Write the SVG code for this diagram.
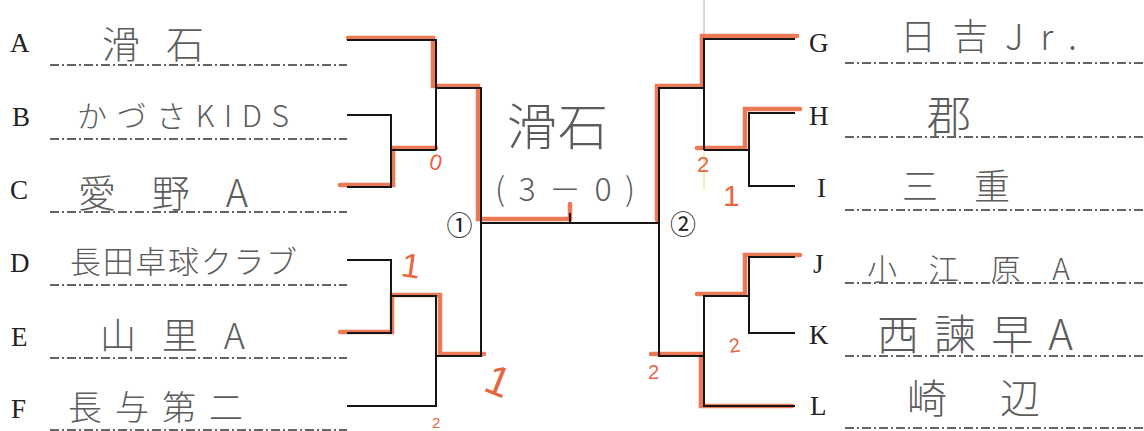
<svg xmlns="http://www.w3.org/2000/svg" width="1144" height="431" viewBox="0 0 1144 431">
<style>
.bg{fill:#ffffff}
.lbl{font-family:"Liberation Serif",serif;font-size:27px;fill:#222}
.hw{font-family:"Noto Sans CJK JP",sans-serif;fill:#5c5c5c;font-weight:300}
.dd{stroke:#333;stroke-width:1.3;stroke-dasharray:9 3 2 3;fill:none}
.br{stroke:#151515;stroke-width:2;fill:none}
.hl{stroke:#e8663f;stroke-width:4.5;fill:none;stroke-linecap:round;opacity:0.88}
.sc{font-family:"Liberation Sans",sans-serif;fill:#e8663f}
.circ{font-family:"Noto Sans CJK JP",sans-serif;font-size:26px;fill:#222}
</style>
<rect class="bg" x="0" y="0" width="1144" height="431"/>

<!-- faint pencil guide marks -->
<line x1="704" y1="0" x2="704" y2="40" stroke="#d9a0e0" stroke-width="1"/>
<line x1="704" y1="152" x2="704" y2="190" stroke="#e8e070" stroke-width="1"/>

<!-- highlighted winner paths -->
<g id="highlights">
<path class="hl" d="M348 38 H433 V86 H478 V219 H570"/>
<path class="hl" d="M570 204 V219"/>
<path class="hl" d="M340 185 H393 V148 H436"/>
<path class="hl" d="M340 332 H392 V295 H440 V354 H484"/>
<path class="hl" d="M797 36 H702 V86 H657 V220"/>
<path class="hl" d="M800 109 H745 V148 H697"/>
<path class="hl" d="M800 255 H745 V294 H697"/>
<path class="hl" d="M792 406 H701 V354 H651"/>
</g>

<!-- connectors (bracket lines) -->
<g id="connectors">
<path class="br" d="M347 40 H436 V150"/>
<path class="br" d="M347 115 H391 V187 H347"/>
<path class="br" d="M391 150 H436"/>
<path class="br" d="M436 88 H481 V356 H436"/>
<path class="br" d="M347 260 H391 V333 H347"/>
<path class="br" d="M391 296 H436 V406 H347"/>
<path class="br" d="M481 223 H659"/>
<path class="br" d="M570 213 V223"/>
<path class="br" d="M795 39 H704 V150"/>
<path class="br" d="M795 113 H749 V186 H795"/>
<path class="br" d="M704 150 H749"/>
<path class="br" d="M704 88 H659 V356 H704"/>
<path class="br" d="M795 257 H749 V333 H795"/>
<path class="br" d="M749 296 H704 V406 H795"/>
</g>

<!-- dash-dot writing lines -->
<g id="lines">
<line class="dd" x1="50" y1="65" x2="347" y2="65"/>
<line class="dd" x1="50" y1="139" x2="347" y2="139"/>
<line class="dd" x1="50" y1="212" x2="347" y2="212"/>
<line class="dd" x1="50" y1="285" x2="347" y2="285"/>
<line class="dd" x1="50" y1="358" x2="347" y2="358"/>
<line class="dd" x1="50" y1="430" x2="347" y2="430"/>
<line class="dd" x1="845" y1="63" x2="1144" y2="63"/>
<line class="dd" x1="845" y1="137" x2="1144" y2="137"/>
<line class="dd" x1="845" y1="210" x2="1144" y2="210"/>
<line class="dd" x1="845" y1="283" x2="1144" y2="283"/>
<line class="dd" x1="845" y1="356" x2="1144" y2="356"/>
<line class="dd" x1="845" y1="428" x2="1144" y2="428"/>
</g>

<!-- left entries -->
<g id="node-A"><text class="lbl" x="10" y="52">A</text><text class="hw" x="102" y="58" font-size="38" textLength="102" lengthAdjust="spacing">滑石</text></g>
<g id="node-B"><text class="lbl" x="12" y="126">B</text><text class="hw" x="77" y="127" font-size="30" textLength="212" lengthAdjust="spacing">かづさKIDS</text></g>
<g id="node-C"><text class="lbl" x="10" y="199">C</text><text class="hw" x="78" y="207" font-size="38" textLength="170" lengthAdjust="spacing">愛野A</text></g>
<g id="node-D"><text class="lbl" x="10" y="272">D</text><text class="hw" x="70" y="273" font-size="31" textLength="227" lengthAdjust="spacing">長田卓球クラブ</text></g>
<g id="node-E"><text class="lbl" x="11" y="346">E</text><text class="hw" x="100" y="349" font-size="36" textLength="145" lengthAdjust="spacing">山里A</text></g>
<g id="node-F"><text class="lbl" x="11" y="418">F</text><text class="hw" x="68" y="420" font-size="34" textLength="175" lengthAdjust="spacing">長与第二</text></g>

<!-- right entries -->
<g id="node-G"><text class="lbl" x="809" y="52">G</text><text class="hw" x="900" y="50" font-size="36" textLength="177" lengthAdjust="spacing">日吉Jr.</text></g>
<g id="node-H"><text class="lbl" x="809" y="125">H</text><text class="hw" x="927" y="133" font-size="44">郡</text></g>
<g id="node-I"><text class="lbl" x="817" y="197">I</text><text class="hw" x="902" y="200" font-size="36" textLength="108" lengthAdjust="spacing">三重</text></g>
<g id="node-J"><text class="lbl" x="813" y="273">J</text><text class="hw" x="867" y="280" font-size="30" textLength="203" lengthAdjust="spacing">小江原A</text></g>
<g id="node-K"><text class="lbl" x="809" y="344">K</text><text class="hw" x="877" y="350" font-size="42" textLength="196" lengthAdjust="spacing">西諫早A</text></g>
<g id="node-L"><text class="lbl" x="810" y="415">L</text><text class="hw" x="907" y="413" font-size="40" textLength="133" lengthAdjust="spacing">崎辺</text></g>

<!-- winner and match marks -->
<g id="result">
<text class="hw" x="507" y="145" font-size="50" textLength="101" lengthAdjust="spacing">滑石</text>
<text class="hw" x="495" y="201" font-size="32" textLength="140" lengthAdjust="spacing">(3－0)</text>
</g>
<g id="match-1"><text class="circ" x="459.5" y="235" text-anchor="middle">①</text></g>
<g id="match-2"><text class="circ" x="683" y="234" text-anchor="middle">②</text></g>

<!-- handwritten scores -->
<g id="scores">
<text class="sc" font-size="22" transform="translate(428,168) rotate(15)">0</text>
<text class="sc" font-size="34" transform="translate(400,276) rotate(8)">1</text>
<text class="sc" font-size="42" transform="translate(482,390) rotate(22)">1</text>
<text class="sc" font-size="15" x="432" y="428">2</text>
<text class="sc" font-size="22" x="697" y="172">2</text>
<text class="sc" font-size="30" x="723" y="206">1</text>
<text class="sc" font-size="20" transform="translate(730,353) rotate(-8)">2</text>
<text class="sc" font-size="20" x="648" y="379">2</text>
</g>
</svg>
